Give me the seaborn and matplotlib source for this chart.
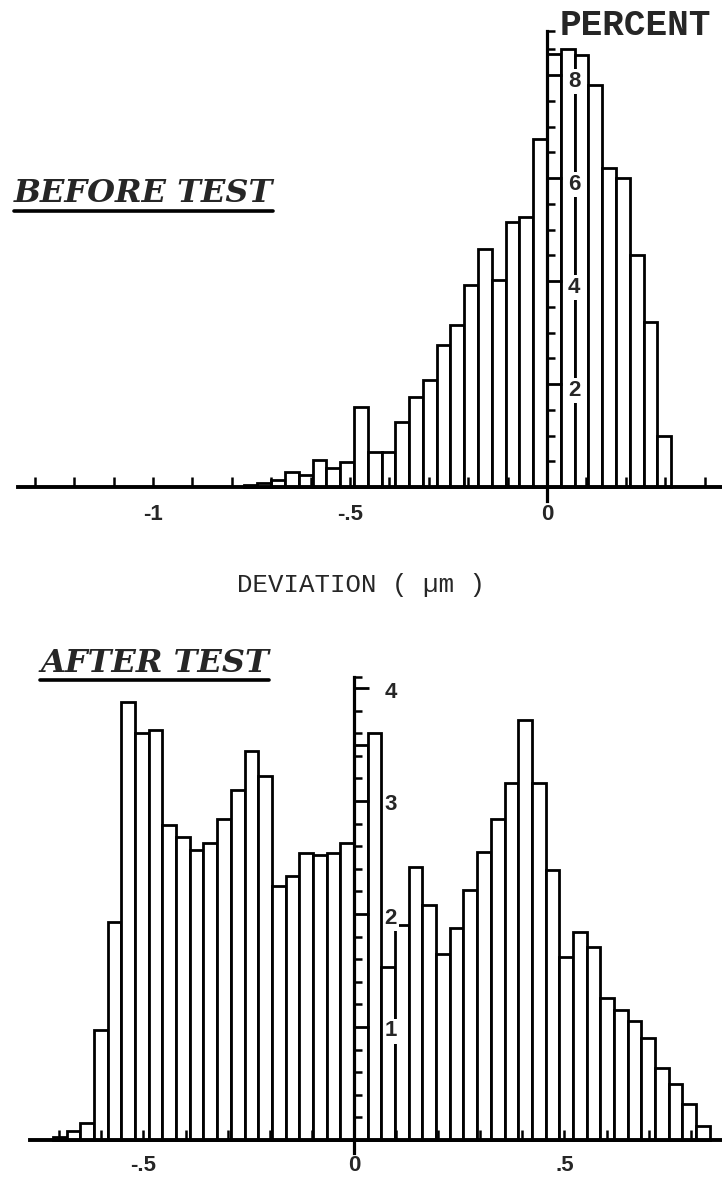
import numpy as np
import pandas as pd
import matplotlib
matplotlib.use("Agg")
import matplotlib.pyplot as plt
import matplotlib.transforms as mtransforms
import seaborn as sns
from matplotlib.lines import Line2D

# ---------------- data ----------------
# BEFORE TEST histogram: percent per bin, bins of equal width starting at index FIRST_BIN
BEFORE_BIN_WIDTH = 0.035
BEFORE_FIRST_BIN = -22
BEFORE_PCT = [0.03, 0.07, 0.14, 0.30, 0.23, 0.52, 0.37, 0.49,
              1.55, 0.68, 0.68, 1.26, 1.75, 2.07, 2.75, 3.14, 3.92, 4.63,
              4.01, 5.15, 5.24, 6.76,
              8.40, 8.50, 8.38, 7.80, 6.20, 6.00, 4.50, 3.20, 1.00]

# AFTER TEST histogram
AFTER_BIN_WIDTH = 0.0325
AFTER_FIRST_BIN = -22
AFTER_PCT = [0.03, 0.08, 0.15,
             0.97, 1.93, 3.88, 3.60, 3.63, 2.79, 2.68, 2.57, 2.63, 2.84,
             3.10, 3.44, 3.22, 2.25, 2.34, 2.54, 2.52, 2.54, 2.63,
             3.50, 3.60, 1.53, 1.90, 2.42, 2.08, 1.65, 1.88, 2.21, 2.55,
             2.84, 3.16, 3.72, 3.16, 2.39, 1.62, 1.84, 1.71, 1.26, 1.15,
             1.05, 0.90, 0.64, 0.50, 0.32, 0.12]

BEFORE_XTICK_POS = [-1.0, -0.5, 0.0]
BEFORE_XTICK_LABELS = ["-1", "-.5", "0"]
BEFORE_YTICK_POS = [2, 4, 6, 8]
BEFORE_YTICK_LABELS = ["2", "4", "6", "8"]

AFTER_XTICK_POS = [-0.5, 0.0, 0.5]
AFTER_XTICK_LABELS = ["-.5", "0", ".5"]
AFTER_YTICK_POS = [1, 2, 3, 4]
AFTER_YTICK_LABELS = ["1", "2", "3", "4"]

TITLE_BEFORE = "BEFORE TEST"
TITLE_AFTER = "AFTER TEST"
Y_LABEL = "PERCENT"
X_LABEL = "DEVIATION ( µm )"

# ---------------- style ----------------
sns.set_style("white")
plt.rcParams['font.family'] = ['DejaVu Sans']
plt.rcParams['axes.axisbelow'] = False

W, H = 722, 1192
fig = plt.figure(figsize=(W / 100, H / 100), dpi=100)


def axes_px(x0, x1, ytop, ybot):
    return fig.add_axes([x0 / W, 1 - ybot / H, (x1 - x0) / W, (ybot - ytop) / H])


TICKFAMILY = ['Liberation Sans', 'DejaVu Sans']


def draw_panel(ax, first_bin, width, pct, xlim, ylim, spine_top,
               xpos, xlabels, ypos, ylabels, yminor_step, ylab_pad, xlab_pad,
               ylab_drop_px):
    n = len(pct)
    edges = (first_bin + np.arange(n + 1)) * width
    centers = (edges[:-1] + edges[1:]) / 2
    df = pd.DataFrame({"deviation": centers, "percent": pct})
    sns.histplot(data=df, x="deviation", weights="percent", bins=edges.tolist(),
                 ax=ax, stat='count', color='white', edgecolor='black',
                 linewidth=2.0, alpha=1)
    ax.set_axisbelow(False)
    ax.set_xlim(*xlim)
    ax.set_ylim(*ylim)
    ax.set_xlabel("")
    ax.set_ylabel("")
    ax.patch.set_alpha(0)
    for s in ['top', 'right']:
        ax.spines[s].set_visible(False)
    ax.spines['left'].set_position(('data', 0))
    ax.spines['bottom'].set_position(('data', 0))
    ax.spines['left'].set_bounds(ylim[0] * 0.45, spine_top)
    ax.spines['bottom'].set_linewidth(2.8)
    ax.spines['left'].set_linewidth(2.3)
    for s in ['left', 'bottom']:
        ax.spines[s].set_color('black')

    # x ticks
    ax.set_xticks(xpos)
    ax.set_xticklabels(xlabels)
    lo = np.ceil(xlim[0] * 10) / 10
    minor_x = [v for v in np.round(np.arange(lo, xlim[1], 0.1), 2)
               if all(abs(v - p) > 1e-6 for p in xpos)]
    ax.set_xticks(minor_x, minor=True)
    ax.tick_params(axis='x', which='both', bottom=True, direction='in', length=7.5,
                   width=1.8, color='black', pad=xlab_pad, labelsize=16)
    # y ticks
    ax.set_yticks(ypos)
    ax.set_yticklabels(ylabels)
    minor_y = [v for v in np.round(np.arange(yminor_step, spine_top, yminor_step), 3)
               if all(abs(v - p) > 1e-6 for p in ypos)] + [spine_top]
    ax.set_yticks(minor_y, minor=True)
    ax.tick_params(axis='y', which='major', left=True, direction='in', length=11,
                   width=2.0, color='black', pad=ylab_pad, labelsize=16)
    ax.tick_params(axis='y', which='minor', left=True, direction='in', length=6,
                   width=1.8, color='black')
    for lab in ax.get_xticklabels() + ax.get_yticklabels():
        lab.set_fontfamily(TICKFAMILY)
        lab.set_fontweight('bold')
    drop = mtransforms.ScaledTranslation(0, -ylab_drop_px / 100, fig.dpi_scale_trans)
    for tick in ax.yaxis.get_major_ticks():
        lab = tick.label1
        lab.set_horizontalalignment('left')
        lab.set_verticalalignment('center')
        lab.set_transform(lab.get_transform() + drop)
        lab.set_bbox(dict(facecolor='white', edgecolor='none', pad=1.5))


# ---- top panel: BEFORE TEST ----
# baseline at y=487 px, 51.5 px per percent; x: 0 at 547 px, 394 px per um
ax1 = axes_px(18, 722, 487 - 9.5 * 51.5, 487 + 0.6 * 51.5)
draw_panel(ax1, BEFORE_FIRST_BIN, BEFORE_BIN_WIDTH, BEFORE_PCT,
           xlim=((18 - 547) / 394, (722 - 547) / 394), ylim=(-0.6, 9.5),
           spine_top=8.85, xpos=BEFORE_XTICK_POS, xlabels=BEFORE_XTICK_LABELS,
           ypos=BEFORE_YTICK_POS, ylabels=BEFORE_YTICK_LABELS, yminor_step=0.5,
           ylab_pad=-15, xlab_pad=12, ylab_drop_px=6)
ax1.text(0.033, 8.97, Y_LABEL, ha='left', va='center', fontsize=26, weight='bold',
         family=['Liberation Mono', 'DejaVu Sans Mono'])

# ---- bottom panel: AFTER TEST ----
# baseline at y=1140 px, 113 px per percent; x: 0 at 354 px, 421 px per um
ax2 = axes_px(30, 722, 1140 - 4.3 * 113, 1140 + 0.25 * 113)
draw_panel(ax2, AFTER_FIRST_BIN, AFTER_BIN_WIDTH, AFTER_PCT,
           xlim=((30 - 354) / 421, (722 - 354) / 421), ylim=(-0.25, 4.3),
           spine_top=4.1, xpos=AFTER_XTICK_POS, xlabels=AFTER_XTICK_LABELS,
           ypos=AFTER_YTICK_POS, ylabels=AFTER_YTICK_LABELS, yminor_step=0.2,
           ylab_pad=-22, xlab_pad=11, ylab_drop_px=4)

# ---- texts ----
fig.text(361 / W, 1 - 585 / H, X_LABEL, ha='center', va='center', fontsize=18.5,
         family=['Liberation Mono', 'DejaVu Sans Mono'])

titles = [
    fig.text(14 / W, 1 - 194 / H, TITLE_BEFORE, ha='left', va='center', fontsize=23,
             family=['DejaVu Serif'], weight='bold', style='italic'),
    fig.text(40 / W, 1 - 663 / H, TITLE_AFTER, ha='left', va='center', fontsize=23,
             family=['DejaVu Serif'], weight='bold', style='italic'),
]
fig.canvas.draw()
r = fig.canvas.get_renderer()
for t in titles:
    bb = t.get_window_extent(r).transformed(fig.transFigure.inverted())
    y = bb.y0 - 1.0 / H
    fig.add_artist(Line2D([bb.x0, bb.x1], [y, y], transform=fig.transFigure,
                          color='black', linewidth=2.6))

fig.savefig("out.png", dpi=100)
